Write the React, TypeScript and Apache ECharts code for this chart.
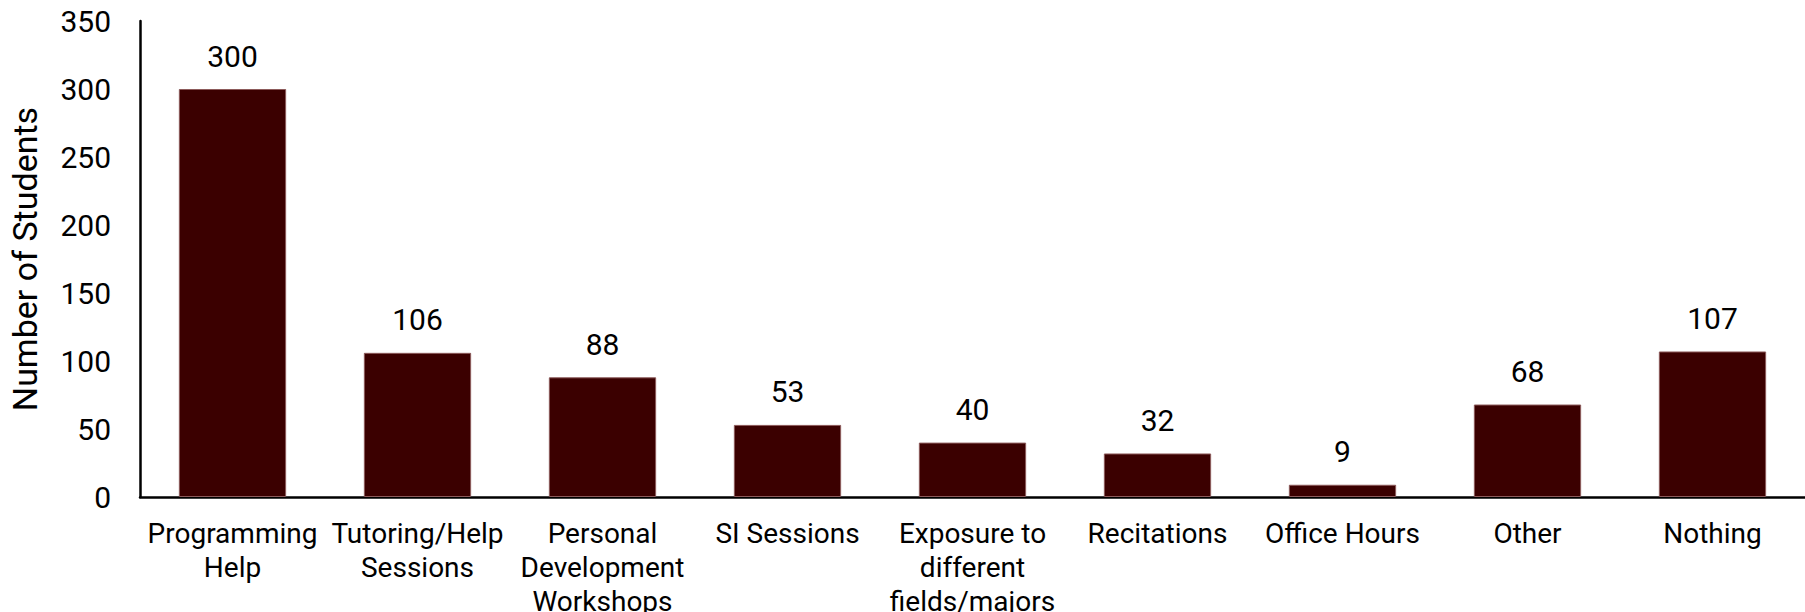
import React, { useEffect, useRef } from "react";
import * as echarts from "echarts";

const categories = [
  "Programming\nHelp",
  "Tutoring/Help\nSessions",
  "Personal\nDevelopment\nWorkshops",
  "SI Sessions",
  "Exposure to\ndifferent\nfields/majors",
  "Recitations",
  "Office Hours",
  "Other",
  "Nothing",
];
const studentCounts = [300, 106, 88, 53, 40, 32, 9, 68, 107];
const yTicks = { min: 0, max: 350, interval: 50 };
const yAxisTitle = "Number of Students";

const FONT = "Roboto, 'Liberation Sans', sans-serif";

export default function App() {
  const ref = useRef<HTMLDivElement>(null);
  useEffect(() => {
    document.body.style.margin = "0";
    document.body.style.overflow = "hidden";
    if (!ref.current) return;
    const chart = echarts.init(ref.current, undefined, { renderer: "svg" });
    chart.setOption({
      animation: false,
      backgroundColor: "#ffffff",
      textStyle: { fontFamily: FONT, color: "#000" },
      grid: {
        left: 140,
        right: 0,
        top: 21,
        bottom: 115,
        containLabel: false,
        outerBoundsMode: "none",
      },
      xAxis: {
        type: "category",
        data: categories,
        axisLine: { show: true, lineStyle: { color: "#000", width: 2.5 } },
        axisTick: { show: false },
        axisLabel: {
          interval: 0,
          color: "#000",
          fontFamily: FONT,
          fontSize: 28,
          lineHeight: 34,
          margin: 19,
          align: "center",
        },
        splitLine: { show: false },
      },
      yAxis: {
        type: "value",
        min: yTicks.min,
        max: yTicks.max,
        interval: yTicks.interval,
        name: yAxisTitle,
        nameLocation: "middle",
        nameGap: 98,
        nameRotate: 90,
        nameTextStyle: { color: "#000", fontFamily: FONT, fontSize: 34 },
        axisLine: { show: true, lineStyle: { color: "#000", width: 2.5 } },
        axisTick: { show: false },
        axisLabel: { color: "#000", fontFamily: FONT, fontSize: 30, margin: 29 },
        splitLine: { show: false },
      },
      series: [
        {
          type: "bar",
          data: studentCounts,
          barWidth: "58%",
          itemStyle: { color: "#3b0000", borderColor: "#8c5a5a", borderWidth: 1 },
          label: {
            show: true,
            position: "top",
            distance: 18,
            color: "#000",
            fontFamily: FONT,
            fontSize: 30,
          },
        },
      ],
    });
    return () => chart.dispose();
  }, []);
  return (
    <div
      ref={ref}
      style={{ position: "fixed", left: 0, top: 0, width: 1805, height: 612 }}
    />
  );
}
